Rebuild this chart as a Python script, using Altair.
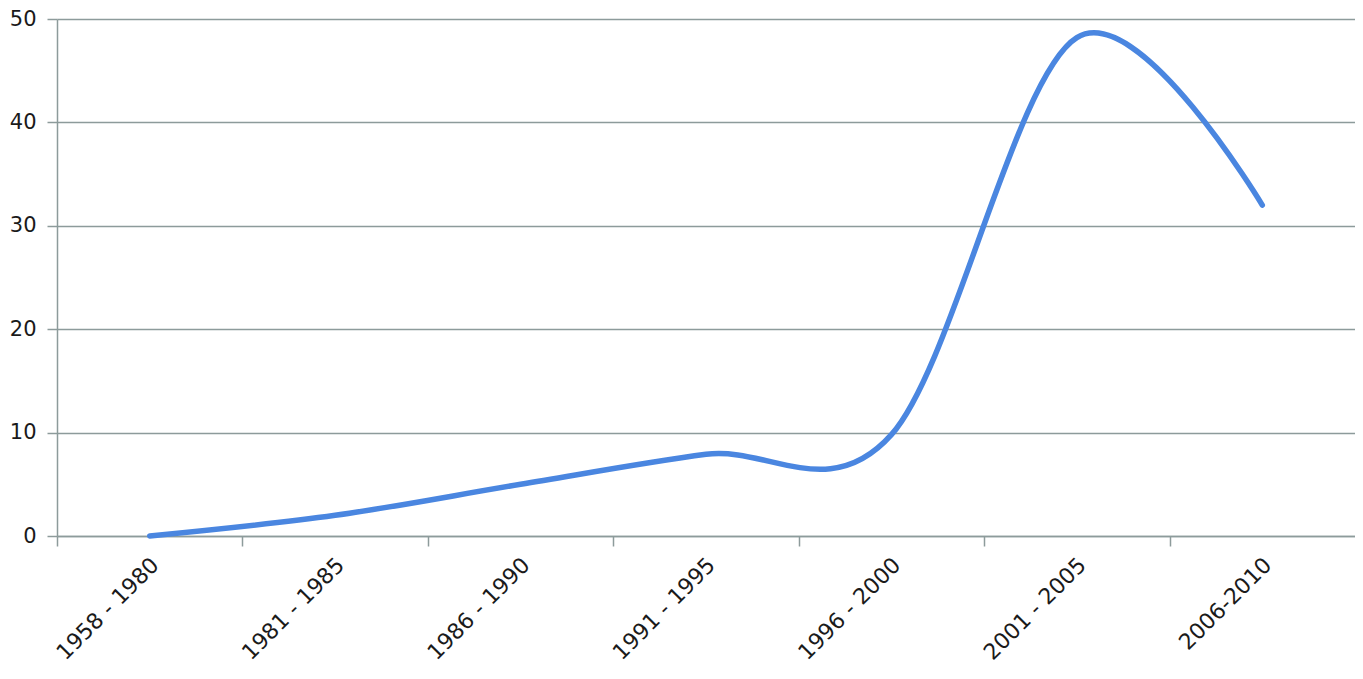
import altair as alt
import pandas as pd

categories = ["1958 - 1980", "1981 - 1985", "1986 - 1990", "1991 - 1995",
              "1996 - 2000", "2001 - 2005", "2006-2010"]
values = [0, 2, 5, 7.9, 9.8, 48.2, 32]
y_ticks = [0, 10, 20, 30, 40, 50]

df = pd.DataFrame({"period": categories, "value": values})

W = 1298
H = 517
step = W / len(categories)
grid_col = "#8d9b9b"

chart = alt.Chart(df).mark_line(
    interpolate="cardinal", tension=0, color="#4a86e0",
    strokeWidth=5.5, strokeCap="round"
).encode(
    x=alt.X("period:O", sort=categories,
            scale=alt.Scale(type="point", padding=0.5),
            axis=alt.Axis(title=None, grid=False, labelAngle=-45,
                          labelAlign="right", labelBaseline="top",
                          tickOffset=-step / 2, labelOffset=step / 2 - 2,
                          tickSize=10, labelPadding=8,
                          domainColor=grid_col, tickColor=grid_col,
                          domainWidth=1.5, tickWidth=1.5,
                          labelFont="DejaVu Sans", labelFontSize=22,
                          labelColor="#1a1a1a")),
    y=alt.Y("value:Q", scale=alt.Scale(domain=[0, 50], nice=False),
            axis=alt.Axis(title=None, values=y_ticks, tickSize=10,
                          labelPadding=11, gridColor=grid_col, gridWidth=1.5,
                          domainColor=grid_col, tickColor=grid_col,
                          domainWidth=1.5, tickWidth=1.5,
                          labelFont="DejaVu Sans", labelFontSize=21,
                          labelColor="#1a1a1a"))
).properties(
    width=W, height=H,
    autosize=alt.AutoSizeParams(type="none"),
    padding={"left": 49, "top": 11, "right": 0, "bottom": 141}
).configure_view(stroke=None)

chart.save("out.html", embed_options={"renderer": "svg", "actions": False})
